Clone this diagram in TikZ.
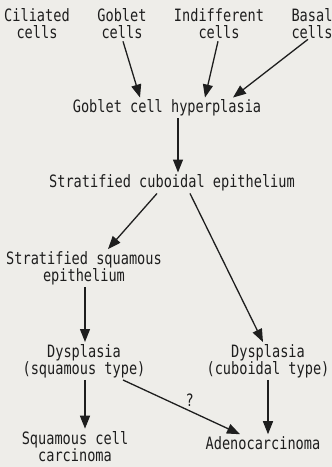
\documentclass[tikz,border=0pt]{standalone}
\usepackage{fontspec}
\newfontfamily\labelfont[FakeStretch=0.8]{DejaVu Sans Mono}
\usepackage{tikz}
\usetikzlibrary{arrows.meta}
\usepackage{xcolor}
\definecolor{paper}{RGB}{238,237,233}
\definecolor{ink}{RGB}{30,30,30}

\begin{document}
\begin{tikzpicture}[
  x=1pt, y=-1pt,
  font=\labelfont\fontsize{17}{17}\selectfont,
  label/.style={align=center, inner sep=2pt, text=ink},
  arrow/.style={-{Triangle[length=13pt, width=10pt]}, line width=1.3pt, draw=ink}
]
\fill[paper] (0,0) rectangle (332,467);
\useasboundingbox (0,0) rectangle (332,467);

\node[label] (cil) at (37,24) {Ciliated\\cells};
\node[label] (gob) at (122,24) {Goblet\\cells};
\node[label] (ind) at (219,24) {Indifferent\\cells};
\node[label] (bas) at (312,24) {Basal\\cells};
\node[label] (hyp) at (167,108) {Goblet cell hyperplasia};
\node[label] (cub) at (172,183) {Stratified cuboidal epithelium};
\node[label] (sqe) at (84,268) {Stratified squamous\\epithelium};
\node[label] (dsq) at (84,361) {Dysplasia\\(squamous type)};
\node[label] (dcu) at (268,361) {Dysplasia\\(cuboidal type)};
\node[label, inner sep=1pt] (scc) at (75,447) {Squamous cell\\carcinoma};
\node[label] (ade) at (263,443) {Adenocarcinoma};

\draw[arrow] ([xshift=1pt]gob.south) -- ([xshift=-27pt]hyp.north);
\draw[arrow] ([xshift=-1pt]ind.south) -- ([xshift=38pt]hyp.north);
\draw[arrow] ([xshift=-4pt,yshift=2pt]bas.south) -- ([xshift=66pt]hyp.north);
\draw[arrow] ([xshift=11pt]hyp.south) -- ([xshift=6pt]cub.north);
\draw[arrow] ([xshift=-15pt]cub.south) -- ([xshift=24pt]sqe.north);
\draw[arrow] ([xshift=18pt]cub.south) -- ([xshift=-5pt]dcu.north);
\draw[arrow] ([xshift=1pt]sqe.south) -- ([xshift=1pt]dsq.north);
\draw[arrow] ([xshift=1pt]dsq.south) -- ([xshift=10pt,yshift=2pt]scc.north);
\draw[arrow] (dcu.south) -- ([xshift=5pt]ade.north);
\draw[arrow] ([xshift=39pt]dsq.south) -- node[pos=0.57, above=3pt, inner sep=1pt, text=ink] {?} ([xshift=-23pt]ade.north);
\end{tikzpicture}
\end{document}
